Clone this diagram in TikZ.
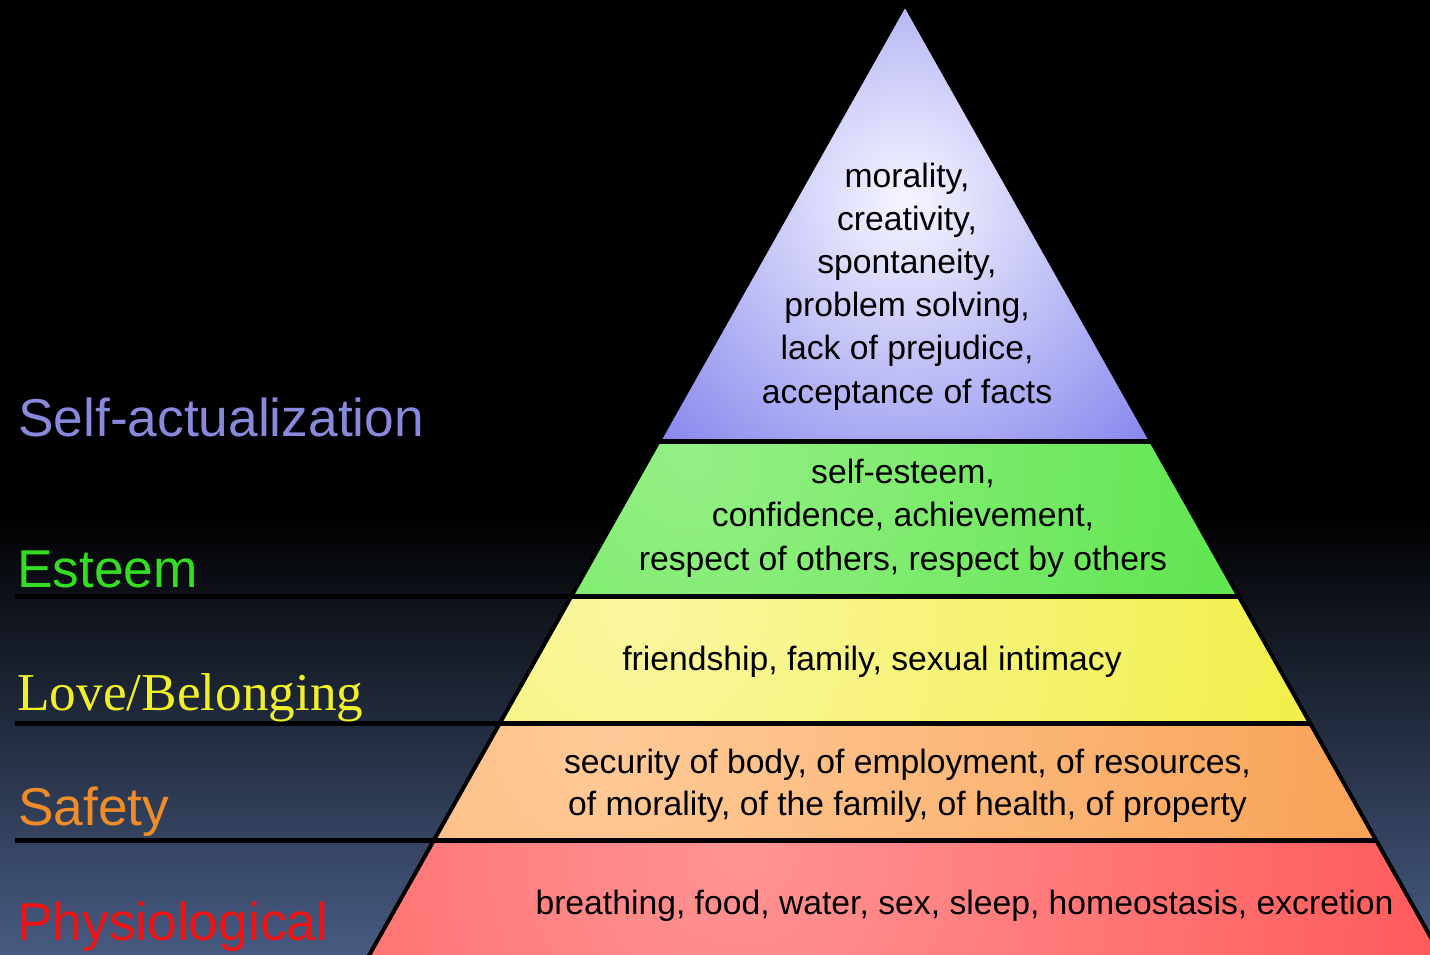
\documentclass[tikz,border=0pt]{standalone}
\usepackage{fontspec}
\setmainfont{Liberation Sans}
\newfontfamily\labserif{Liberation Serif}
\definecolor{bgblue}{HTML}{475B82}
\definecolor{purin}{HTML}{F6F6FF}
\definecolor{purout}{HTML}{8888EE}
\definecolor{grnin}{HTML}{94F084}
\definecolor{grnout}{HTML}{55E245}
\definecolor{yelin}{HTML}{FAF7A0}
\definecolor{yelout}{HTML}{F0EE40}
\definecolor{orgin}{HTML}{FFCA98}
\definecolor{orgout}{HTML}{F8A256}
\definecolor{redin}{HTML}{FF9494}
\definecolor{redout}{HTML}{FF5454}
\definecolor{labpur}{HTML}{8888DD}
\definecolor{labgrn}{HTML}{33DD22}
\definecolor{labyel}{HTML}{F0F028}
\definecolor{laborg}{HTML}{F08C28}
\definecolor{labred}{HTML}{EE1414}
\begin{document}
\begin{tikzpicture}[x=1pt,y=-1pt,
  lvltext/.style={font=\fontsize{33.7}{40}\selectfont, text=black, inner sep=0pt, anchor=base},
  lvllabel/.style={font=\fontsize{53.3}{60}\selectfont, inner sep=0pt, anchor=base west},
  sepline/.style={line width=5pt, draw=black},
  edgeline/.style={line width=4pt, draw=black, line join=miter}]
\useasboundingbox (0,0) rectangle (1430,954);
\clip (0,0) rectangle (1430,954);
% background
\fill[black] (0,0) rectangle (1430,954);
\shade[top color=black, bottom color=bgblue] (0,515) rectangle (1430,955);
% corner coordinates
\coordinate (apex) at (905,4);
\coordinate (L1) at (658.8,441); \coordinate (R1) at (1151.2,441);
\coordinate (L2) at (571.5,596); \coordinate (R2) at (1238.5,596);
\coordinate (L3) at (499.9,723); \coordinate (R3) at (1310.1,723);
\coordinate (L4) at (434.0,840); \coordinate (R4) at (1376.0,840);
\coordinate (L5) at (360.8,970); \coordinate (R5) at (1449.2,970);
% layers
\begin{scope}
  \clip (apex) -- (R1) -- (L1) -- cycle;
  \fill[purout] (0,0) rectangle (1430,954);
  \shade[inner color=purin, outer color=purout] (905,200) circle (340pt);
\end{scope}
\begin{scope}
  \clip (L1) -- (R1) -- (R2) -- (L2) -- cycle;
  \fill[grnout] (0,0) rectangle (1430,954);
  \shade[inner color=grnin, outer color=grnout] (690,455) circle (680pt);
\end{scope}
\begin{scope}
  \clip (L2) -- (R2) -- (R3) -- (L3) -- cycle;
  \fill[yelout] (0,0) rectangle (1430,954);
  \shade[inner color=yelin, outer color=yelout] (640,610) circle (760pt);
\end{scope}
\begin{scope}
  \clip (L3) -- (R3) -- (R4) -- (L4) -- cycle;
  \fill[orgout] (0,0) rectangle (1430,954);
  \shade[inner color=orgin, outer color=orgout] (600,735) circle (800pt);
\end{scope}
\begin{scope}
  \clip (L4) -- (R4) -- (R5) -- (L5) -- cycle;
  \fill[redout] (0,0) rectangle (1430,954);
  \shade[inner color=redin, outer color=redout] (740,850) circle (780pt);
\end{scope}
% separators and outline
\draw[sepline] (15,441) -- (R1);
\draw[sepline] (15,596) -- (R2);
\draw[sepline] (15,723) -- (R3);
\draw[sepline] (15,840) -- (R4);
\draw[edgeline] (L5) -- (apex) -- (R5);
% pyramid texts
\node[lvltext] (sa1) at (907,187) {morality,};
\node[lvltext] (sa2) at (907,230.2) {creativity,};
\node[lvltext] (sa3) at (907,273.4) {spontaneity,};
\node[lvltext] (sa4) at (907,316.6) {problem solving,};
\node[lvltext] (sa5) at (907,359.8) {lack of prejudice,};
\node[lvltext] (sa6) at (907,403) {acceptance of facts};
\node[lvltext] (es1) at (903,483) {self-esteem,};
\node[lvltext] (es2) at (903,526.5) {confidence, achievement,};
\node[lvltext] (es3) at (903,570) {respect of others, respect by others};
\node[lvltext] (lb1) at (872,670) {friendship, family, sexual intimacy};
\node[lvltext] (sf1) at (907.5,773) {security of body, of employment, of resources,};
\node[lvltext] (sf2) at (907.5,815.5) {of morality, of the family, of health, of property};
\node[lvltext] (ph1) at (964.5,914) {breathing, food, water, sex, sleep, homeostasis, excretion};
% left labels
\node[lvllabel, text=labpur] (lsa) at (18,436) {Self-actualization};
\node[lvllabel, text=labgrn] (les) at (17,587) {Esteem};
\node[lvllabel, text=labyel, font=\labserif\fontsize{53.3}{60}\selectfont] (llb) at (17,710) {Love/Belonging};
\node[lvllabel, text=laborg] (lsf) at (18,825) {Safety};
\node[lvllabel, text=labred] (lph) at (17,940) {Physiological};
\end{tikzpicture}
\end{document}
